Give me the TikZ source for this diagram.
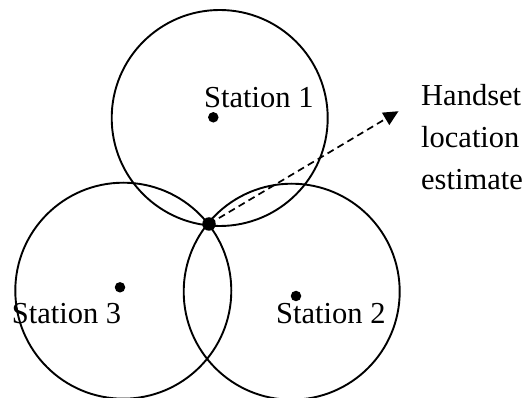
\documentclass[tikz,border=0pt]{standalone}
\usepackage{fontspec}
\setmainfont{Liberation Serif}
\usetikzlibrary{arrows.meta}
\begin{document}
\begin{tikzpicture}[x=1pt,y=-1pt,
  ring/.style={draw, circle, line width=1.9pt, minimum size=216pt, inner sep=0pt},
  stationdot/.style={fill, circle, minimum size=10.5pt, inner sep=0pt},
  fixdot/.style={fill, circle, minimum size=13.5pt, inner sep=0pt},
  lbl/.style={anchor=base west, inner sep=0pt, font=\fontsize{30.5}{36}\selectfont},
  estarrow/.style={line width=1.7pt, dash pattern=on 7pt off 4.5pt,
    -{Triangle[length=15pt,width=14pt]}}]
  \useasboundingbox (0,0) rectangle (528,398);
  % coverage circles around the three stations
  \node[ring] (c1) at (219.7,118.0) {};
  \node[ring] (c3) at (123.3,290.7) {};
  \node[ring] (c2) at (291.7,291.7) {};
  % station positions
  \node[stationdot] (s1) at (213.3,117.3) {};
  \node[stationdot] (s3) at (120.0,287.3) {};
  \node[stationdot] (s2) at (296.0,296.0) {};
  % station labels
  \node[lbl] (l1) at (204.0,107.3) {Station 1};
  \node[lbl] (l3) at (11.7,323.3) {Station 3};
  \node[lbl] (l2) at (276.0,323.3) {Station 2};
  % common intersection = location fix
  \node[fixdot] (fix) at (209.0,224.0) {};
  \coordinate (tip) at (398.5,111.2);
  \draw[estarrow] (fix.center) -- (tip);
  % annotation
  \node[lbl] (h1) at (421.0,106.0) {Handset};
  \node[lbl] (h2) at (421.0,148.0) {location};
  \node[lbl] (h3) at (421.0,190.0) {estimate};
\end{tikzpicture}
\end{document}
